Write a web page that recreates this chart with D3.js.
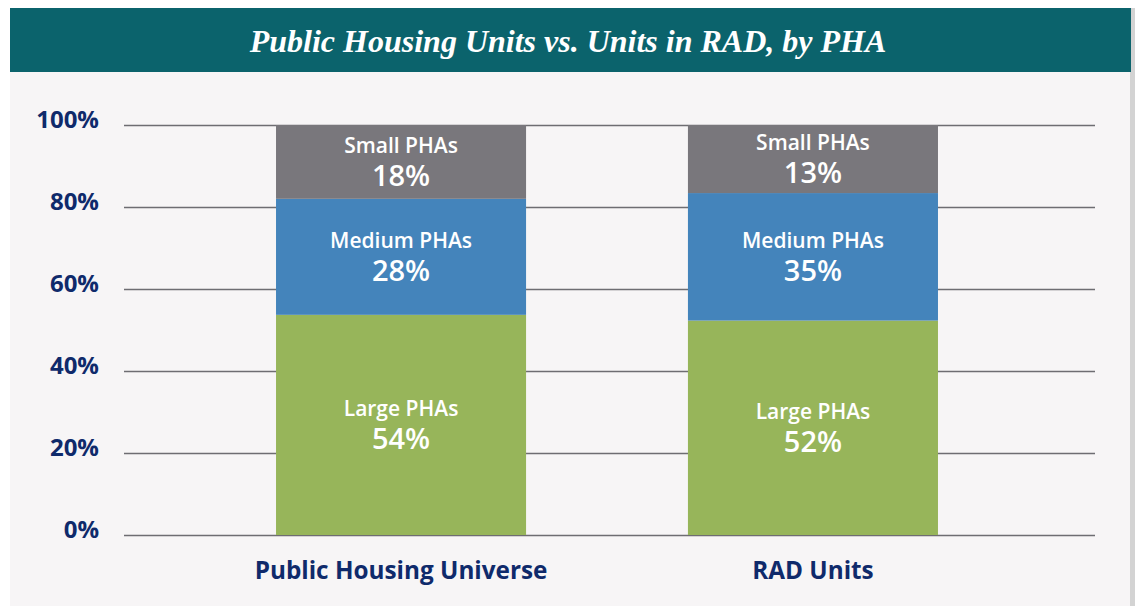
<!DOCTYPE html>
<html>
<head>
<meta charset="utf-8">
<script src="https://cdn.jsdelivr.net/npm/d3@7"></script>
<style>
  body { margin: 0; background: #ffffff; }
  .y-axis text { font-family: "Open Sans", sans-serif; font-weight: 700; font-size: 24px; fill: #0f2a6b; }
  .x-axis text { font-family: "Open Sans", sans-serif; font-weight: 700; font-size: 24.3px; fill: #0f2a6b; }
  .seg-label text { font-family: "Open Sans", sans-serif; font-weight: 600; fill: #ffffff; }
  .seg-name { font-size: 21px; }
  .seg-pct { font-size: 29px; }
  .title { font-family: "Liberation Serif", serif; font-style: italic; font-weight: 700; font-size: 32px; fill: #ffffff; }
</style>
</head>
<body>
<div id="wrapper"></div>
<script>
// data
const categories = ["Public Housing Universe", "RAD Units"]
const groups = ["Large PHAs", "Medium PHAs", "Small PHAs"]
// segment heights as drawn (percent of units)
const largeShare = [53.7, 52.3]
const mediumShare = [28.3, 31.1]
const smallShare = [18.0, 16.6]
// percentages printed inside the segments
const largeLabels = ["54%", "52%"]
const mediumLabels = ["28%", "35%"]
const smallLabels = ["18%", "13%"]
const yTicks = [0, 20, 40, 60, 80, 100]
const colors = ["#97b55a", "#4484bb", "#79777c"]

function drawChart() {
  const dimensions = {
    width: 1135,
    height: 606,
    margin: { top: 125, right: 40, bottom: 71, left: 124 },
  }
  dimensions.boundedWidth = dimensions.width - dimensions.margin.left - dimensions.margin.right
  dimensions.boundedHeight = dimensions.height - dimensions.margin.top - dimensions.margin.bottom

  const dataset = categories.map((c, i) => ({
    category: c,
    "Large PHAs": largeShare[i],
    "Medium PHAs": mediumShare[i],
    "Small PHAs": smallShare[i],
  }))
  const labelLookup = {
    "Large PHAs": largeLabels,
    "Medium PHAs": mediumLabels,
    "Small PHAs": smallLabels,
  }

  const wrapper = d3.select("#wrapper")
    .append("svg")
      .attr("width", dimensions.width)
      .attr("height", dimensions.height)

  // panel, shadow and title band
  wrapper.append("rect")
      .attr("x", 1130).attr("y", 8)
      .attr("width", 5).attr("height", dimensions.height - 8)
      .attr("fill", "#d3d3d3")
  wrapper.append("rect")
      .attr("x", 10).attr("y", 8)
      .attr("width", 1120).attr("height", dimensions.height - 8)
      .attr("fill", "#f7f5f6")
  wrapper.append("rect")
      .attr("x", 10).attr("y", 8)
      .attr("width", 1121).attr("height", 64)
      .attr("fill", "#0b636c")
  wrapper.append("text")
      .attr("class", "title")
      .attr("x", 568)
      .attr("y", 52)
      .attr("text-anchor", "middle")
      .text("Public Housing Units vs. Units in RAD, by PHA")

  const bounds = wrapper.append("g")
      .attr("transform", `translate(${dimensions.margin.left}, ${dimensions.margin.top})`)

  // scales
  const yScale = d3.scaleLinear()
    .domain([0, 100])
    .range([dimensions.boundedHeight, 0])

  const xScale = d3.scaleBand()
    .domain(categories)
    .range([71, 895])
    .paddingInner(0.393)
    .paddingOuter(0.1967)

  // grid lines
  const yGrid = bounds.append("g")
      .attr("class", "y-grid")
    .call(d3.axisLeft(yScale)
      .tickValues(yTicks)
      .tickSize(-dimensions.boundedWidth)
      .tickFormat(""))
  yGrid.select(".domain").remove()
  yGrid.selectAll("line")
      .attr("stroke", "#6e6d72")
      .attr("stroke-width", 1.6)

  // stacked bars
  const stack = d3.stack().keys(groups)
  const series = stack(dataset)

  const layers = bounds.selectAll(".layer")
    .data(series)
    .join("g")
      .attr("class", "layer")
      .attr("fill", (d, i) => colors[i])

  layers.selectAll("rect")
    .data(d => d.map(p => ({ key: d.key, p })))
    .join("rect")
      .attr("x", d => xScale(d.p.data.category))
      .attr("y", d => yScale(d.p[1]))
      .attr("width", xScale.bandwidth())
      .attr("height", d => yScale(d.p[0]) - yScale(d.p[1]))

  // segment labels: name and percentage as two lines of one text
  const labels = bounds.selectAll(".seg-label")
    .data(series.flatMap(s => s.map((p, i) => ({ key: s.key, p, i }))))
    .join("g")
      .attr("class", "seg-label")
      .attr("transform", d => {
        const cx = xScale(d.p.data.category) + xScale.bandwidth() / 2
        const cy = (yScale(d.p[0]) + yScale(d.p[1])) / 2
        return `translate(${cx}, ${cy})`
      })
  const labelText = labels.append("text")
      .attr("text-anchor", "middle")
      .attr("y", -9)
  labelText.append("tspan")
      .attr("class", "seg-name")
      .attr("x", 0)
      .text(d => d.key)
  labelText.append("tspan")
      .attr("class", "seg-pct")
      .attr("x", 0)
      .attr("dy", 33)
      .text(d => labelLookup[d.key][d.i])

  // axes
  const yAxis = bounds.append("g")
      .attr("class", "y-axis")
    .call(d3.axisLeft(yScale)
      .tickValues(yTicks)
      .tickSize(0)
      .tickPadding(25)
      .tickFormat(d => d + "%"))
  yAxis.select(".domain").remove()
  yAxis.selectAll("text").attr("dy", "0.1em")

  const xAxis = bounds.append("g")
      .attr("class", "x-axis")
      .attr("transform", `translate(0, ${dimensions.boundedHeight})`)
    .call(d3.axisBottom(xScale).tickSize(0).tickPadding(0))
  xAxis.select(".domain").remove()
  xAxis.selectAll("text").attr("dy", null).attr("y", 44)
}
drawChart()
</script>
</body>
</html>
